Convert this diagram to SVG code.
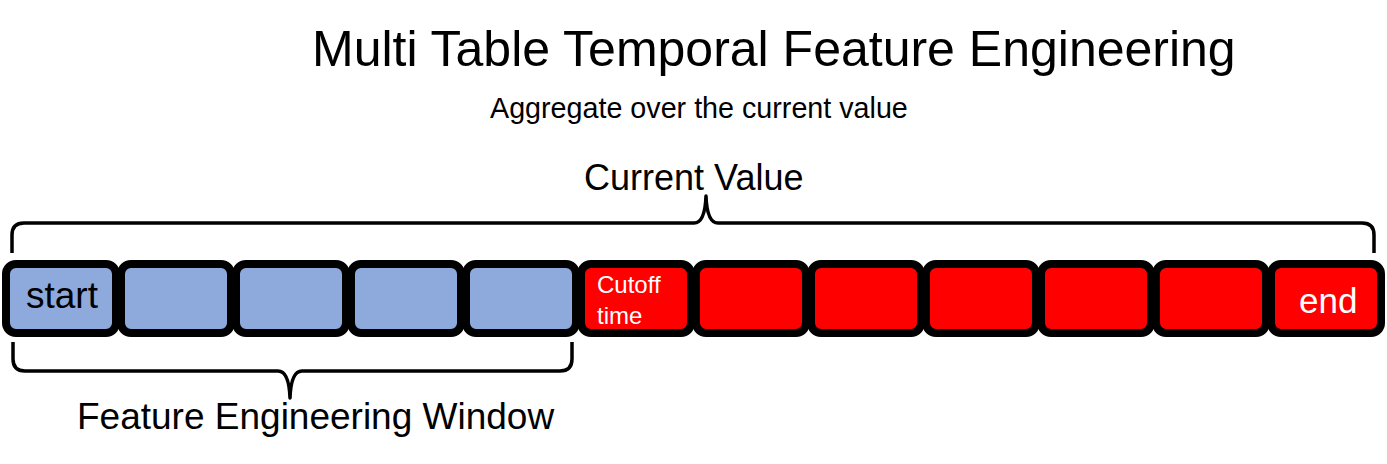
<svg xmlns="http://www.w3.org/2000/svg" width="1387" height="464" viewBox="0 0 1387 464">
<style>
text{font-family:"Liberation Sans",Arial,sans-serif;fill:#000}
.box{stroke:#000;stroke-width:8}
.blue{fill:#8EA9DB}
.red{fill:#FF0000}
.br{fill:none;stroke:#000;stroke-width:3.5;stroke-linejoin:round}
.w{fill:#fff}
</style>
<rect width="1387" height="464" fill="#fff"/>
<text x="312" y="66" font-size="50">Multi Table Temporal Feature Engineering</text>
<text x="490" y="118" font-size="28.7">Aggregate over the current value</text>
<g id="brackets">
<path class="br" d="M12,253 V235 Q12,223 24,223 H694 Q705,223 706,196 Q707,223 718,223 H1362 Q1374,223 1374,235 V253"/>
<path class="br" d="M13,342 V359 Q13,371 25,371 H278 Q289,371 290,398 Q291,371 302,371 H560 Q572,371 572,359 V342"/>
</g>
<text id="current-value" x="584" y="190" font-size="36">Current Value</text>
<text id="few" x="77" y="429" font-size="37">Feature Engineering Window</text>
<g id="b1"><rect class="box blue" x="6" y="264" width="110" height="69" rx="10"/><text x="26" y="308" font-size="37">start</text></g>
<g id="b2"><rect class="box blue" x="121" y="264" width="110" height="69" rx="10"/></g>
<g id="b3"><rect class="box blue" x="236" y="264" width="110" height="69" rx="10"/></g>
<g id="b4"><rect class="box blue" x="351" y="264" width="110" height="69" rx="10"/></g>
<g id="b5"><rect class="box blue" x="466" y="264" width="110" height="69" rx="10"/></g>
<g id="b6"><rect class="box red" x="581" y="264" width="110" height="69" rx="10"/><text class="w" x="597" y="293" font-size="24">Cutoff</text><text class="w" x="597" y="324" font-size="24">time</text></g>
<g id="b7"><rect class="box red" x="696" y="264" width="110" height="69" rx="10"/></g>
<g id="b8"><rect class="box red" x="811" y="264" width="110" height="69" rx="10"/></g>
<g id="b9"><rect class="box red" x="926" y="264" width="110" height="69" rx="10"/></g>
<g id="b10"><rect class="box red" x="1041" y="264" width="110" height="69" rx="10"/></g>
<g id="b11"><rect class="box red" x="1156" y="264" width="110" height="69" rx="10"/></g>
<g id="b12"><rect class="box red" x="1271" y="264" width="110" height="69" rx="10"/><text class="w" x="1299" y="313" font-size="35">end</text></g>
</svg>
